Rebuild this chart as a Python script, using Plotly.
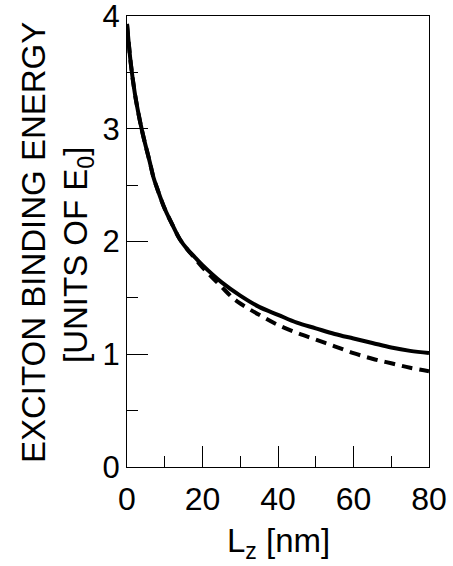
import plotly.graph_objects as go

# Well width L_z [nm]
lz_solid = [0, 1, 2, 3, 4, 5, 6, 7, 8, 10, 12, 14, 16, 18, 20, 25, 30, 35, 40, 45, 50, 55, 60, 65, 70, 75, 80]
eb_solid = [3.93, 3.58, 3.33, 3.14, 2.98, 2.84, 2.71, 2.57, 2.47, 2.29, 2.15, 2.02, 1.93, 1.86, 1.79, 1.64, 1.52, 1.42, 1.35, 1.28, 1.23, 1.18, 1.14, 1.10, 1.06, 1.03, 1.01]

lz_dash = [0, 1, 2, 3, 4, 5, 6, 7, 8, 10, 12, 14, 16, 18, 20, 22, 25, 28, 30, 35, 40, 45, 50, 55, 60, 65, 70, 75, 80]
eb_dash = [3.93, 3.58, 3.33, 3.14, 2.98, 2.84, 2.71, 2.57, 2.47, 2.29, 2.15, 2.02, 1.93, 1.85, 1.77, 1.70, 1.60, 1.50, 1.45, 1.35, 1.26, 1.19, 1.13, 1.07, 1.01, 0.96, 0.92, 0.88, 0.85]

x_ticks = [0, 20, 40, 60, 80]
y_ticks = [0, 1, 2, 3, 4]

FONT = "Liberation Sans, Arial, sans-serif"

fig = go.Figure()
fig.add_trace(go.Scatter(x=lz_solid, y=eb_solid, mode="lines",
                         line=dict(color="black", width=4, shape="spline"), showlegend=False))
fig.add_trace(go.Scatter(x=lz_dash, y=eb_dash, mode="lines",
                         line=dict(color="black", width=4, dash="11px,7px", shape="spline"), showlegend=False))

fig.update_layout(
    width=453, height=566,
    margin=dict(l=127, r=24, t=16, b=99, autoexpand=False),
    paper_bgcolor="white", plot_bgcolor="white",
    font=dict(family=FONT, size=32, color="black"),
    xaxis=dict(range=[0, 80], tickvals=x_ticks, ticks="inside", ticklen=21, tickwidth=1.2,
               tickcolor="black", showline=True, linecolor="black", linewidth=1.3, mirror=True,
               showgrid=False, zeroline=False, ticklabeloverflow="allow", ticklabelstandoff=3,
               automargin=False, tickfont=dict(size=32),
               minor=dict(dtick=10, ticks="inside", ticklen=11, tickwidth=1.2, tickcolor="black")),
    yaxis=dict(range=[0, 4], tickvals=y_ticks, ticks="inside", ticklen=21, tickwidth=1.2,
               tickcolor="black", showline=True, linecolor="black", linewidth=1.3, mirror=True,
               showgrid=False, zeroline=False, ticklabeloverflow="allow", automargin=False,
               tickfont=dict(size=31),
               minor=dict(dtick=0.5, ticks="inside", ticklen=11, tickwidth=1.2, tickcolor="black")),
    annotations=[
        dict(text="EXCITON BINDING ENERGY", textangle=-90, xref="paper", yref="paper",
             x=(33 - 127) / 302, y=(467 - 243) / 451, xanchor="center", yanchor="middle",
             showarrow=False, font=dict(size=33)),
        dict(text="[UNITS OF E<sub>0</sub>]", textangle=-90, xref="paper", yref="paper",
             x=(78 - 127) / 302, y=(467 - 255) / 451, xanchor="center", yanchor="middle",
             showarrow=False, font=dict(size=33)),
        dict(text="L<sub>z</sub> [nm]", xref="paper", yref="paper",
             x=(278 - 127) / 302, y=(467 - 543) / 451, xanchor="center", yanchor="middle",
             showarrow=False, font=dict(size=33)),
    ],
)

fig.write_html("out.html")
